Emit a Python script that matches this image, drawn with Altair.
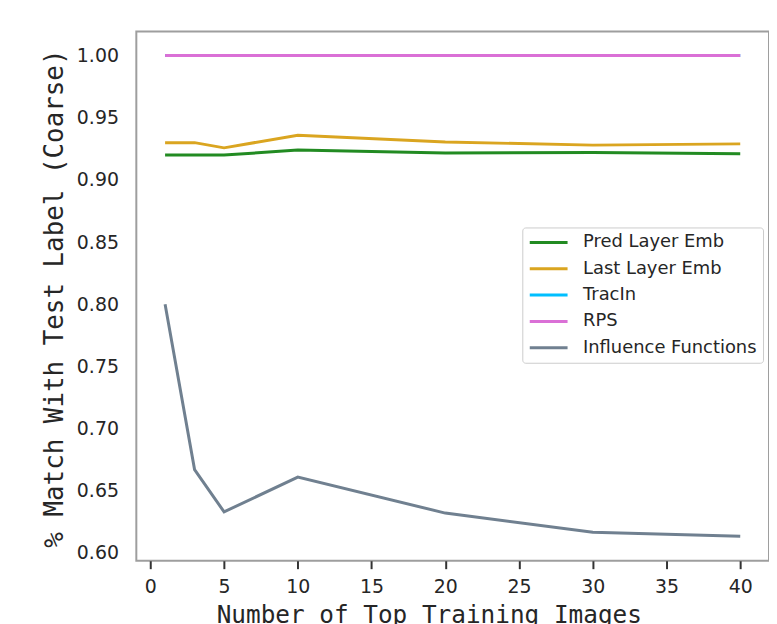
import altair as alt
import pandas as pd

x_vals = [1, 3, 5, 10, 20, 30, 40]
series_names = ["Pred Layer Emb", "Last Layer Emb", "TracIn", "RPS", "Influence Functions"]
series_colors = ["#228B22", "#DAA520", "#00BFFF", "#DA70D6", "#708090"]

pred_layer = [0.920, 0.920, 0.920, 0.924, 0.9217, 0.922, 0.921]
last_layer = [0.930, 0.930, 0.9258, 0.936, 0.9305, 0.928, 0.929]
tracin = [1.0, 1.0, 1.0, 1.0, 1.0, 1.0, 1.0]
rps = [1.0, 1.0, 1.0, 1.0, 1.0, 1.0, 1.0]
influence = [0.800, 0.667, 0.633, 0.661, 0.632, 0.6166, 0.6134]

x_ticks = [0, 5, 10, 15, 20, 25, 30, 35, 40]
y_ticks = [0.60, 0.65, 0.70, 0.75, 0.80, 0.85, 0.90, 0.95, 1.00]

rows = []
for order, (name, vals) in enumerate(zip(series_names, [pred_layer, last_layer, tracin, rps, influence])):
    for xv, yv in zip(x_vals, vals):
        rows.append({"x": xv, "y": yv, "series": name, "order": order})
df = pd.DataFrame(rows)

chart = alt.Chart(df).mark_line(strokeWidth=3).encode(
    x=alt.X("x:Q",
            scale=alt.Scale(domain=[-0.95, 41.95], nice=False, zero=False),
            axis=alt.Axis(values=x_ticks, title="Number of Top Training Images",
                          titleX=294, titleY=62.5, titleBaseline="alphabetic",
                          titleAlign="center")),
    y=alt.Y("y:Q",
            scale=alt.Scale(domain=[0.5937, 1.0194], nice=False, zero=False),
            axis=alt.Axis(values=y_ticks, format=".2f", ticks=False, labelPadding=18,
                          title="% Match With Test Label (Coarse)",
                          titleX=-74, titleY=268, titleBaseline="alphabetic",
                          titleAlign="center", titleAngle=270)),
    color=alt.Color("series:N",
                    scale=alt.Scale(domain=series_names, range=series_colors),
                    sort=series_names,
                    title=None,
                    legend=alt.Legend(orient="none", legendX=388, legendY=197)),
    detail="order:O",
    order="order:Q",
).properties(
    width=636, height=532,
    autosize=alt.AutoSizeParams(type="none"),
    padding={"left": 129, "top": 22, "right": 0, "bottom": 62},
).configure_view(
    stroke="#9e9e9e", strokeWidth=2
).configure_axis(
    grid=False, domain=False,
    labelFont="DejaVu Sans", labelFontSize=19, labelColor="#262626",
    titleFont="DejaVu Sans Mono", titleFontWeight="normal", titleColor="#262626",
    tickColor="#333333", tickWidth=2, tickSize=8,
).configure_axisX(
    labelPadding=9, titleFontSize=24.5,
).configure_axisY(
    titleFontSize=26,
).configure_legend(
    padding=6, strokeColor="#cccccc", fillColor="#ffffff", cornerRadius=3,
    symbolType="stroke", symbolSize=1444, symbolStrokeWidth=3,
    labelFont="DejaVu Sans", labelFontSize=18, labelColor="#262626",
    labelOffset=14, rowPadding=8.5, clipHeight=18, labelLimit=400,
)

chart.save("out.html", embed_options={"renderer": "svg", "actions": False})
